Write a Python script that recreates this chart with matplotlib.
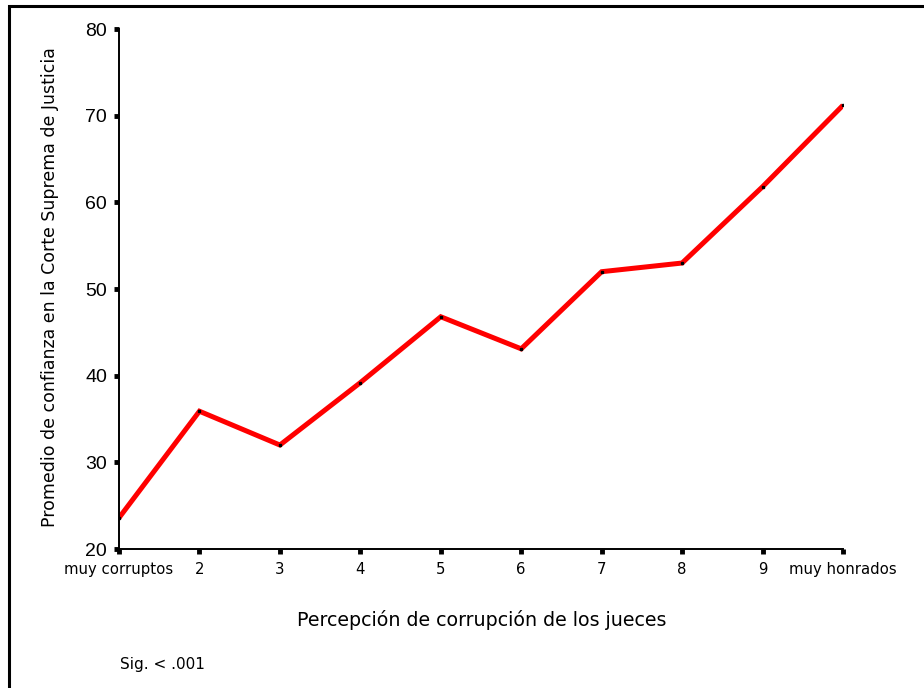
import matplotlib
matplotlib.use("Agg")
import matplotlib.pyplot as plt
from matplotlib.patches import Rectangle

# Data
categories = ["muy corruptos", "2", "3", "4", "5", "6", "7", "8", "9", "muy honrados"]
confianza = [23.6, 35.9, 32.0, 39.2, 46.8, 43.1, 52.0, 53.0, 61.8, 71.2]
y_ticks = [20, 30, 40, 50, 60, 70, 80]

plt.rcParams["font.family"] = ["Liberation Sans", "DejaVu Sans"]
wide = ["DejaVu Sans"]

fig = plt.figure(figsize=(9.24, 6.88), dpi=100)
ax = fig.add_axes([0.1288, 0.202, 0.7835, 0.7558])

x = list(range(len(categories)))
ax.plot(x, confianza, color="#ff0000", linewidth=3.6, solid_capstyle="butt",
        solid_joinstyle="miter", zorder=2)
ax.plot(x, confianza, linestyle="none", marker="s", markersize=1.6,
        color="black", zorder=3)

ax.set_xlim(0, len(categories) - 1)
ax.set_ylim(20, 80)
ax.set_xticks(x)
ax.set_xticklabels(categories, fontsize=10.7, family=wide)
ax.set_yticks(y_ticks)
ax.set_yticklabels([str(v) for v in y_ticks], fontsize=14)

for side in ["top", "right"]:
    ax.spines[side].set_visible(False)
for side in ["left", "bottom"]:
    ax.spines[side].set_linewidth(1.4)

ax.tick_params(axis="both", direction="out", length=3.5, width=3.5, color="black")
ax.tick_params(axis="y", pad=5)
ax.tick_params(axis="x", pad=6)

fig.text(482 / 924, 1 - 620 / 688, "Percepción de corrupción de los jueces",
         fontsize=13.7, family=wide, ha="center", va="center")
fig.text(50 / 924, 1 - 287 / 688, "Promedio de confianza en la Corte Suprema de Justicia",
         fontsize=12.5, family=wide, rotation=90, ha="center", va="center")

fig.text(120 / 924, 1 - 664 / 688, "Sig. < .001", fontsize=11, family=wide,
         ha="left", va="center")

# outer frame (only top and left edges visible in the image)
frame = Rectangle((0.0098, -0.1), 1.2, 1.091, transform=fig.transFigure,
                  fill=False, edgecolor="black", linewidth=2.2, clip_on=False)
fig.patches.append(frame)

fig.savefig("out.png", dpi=100)
